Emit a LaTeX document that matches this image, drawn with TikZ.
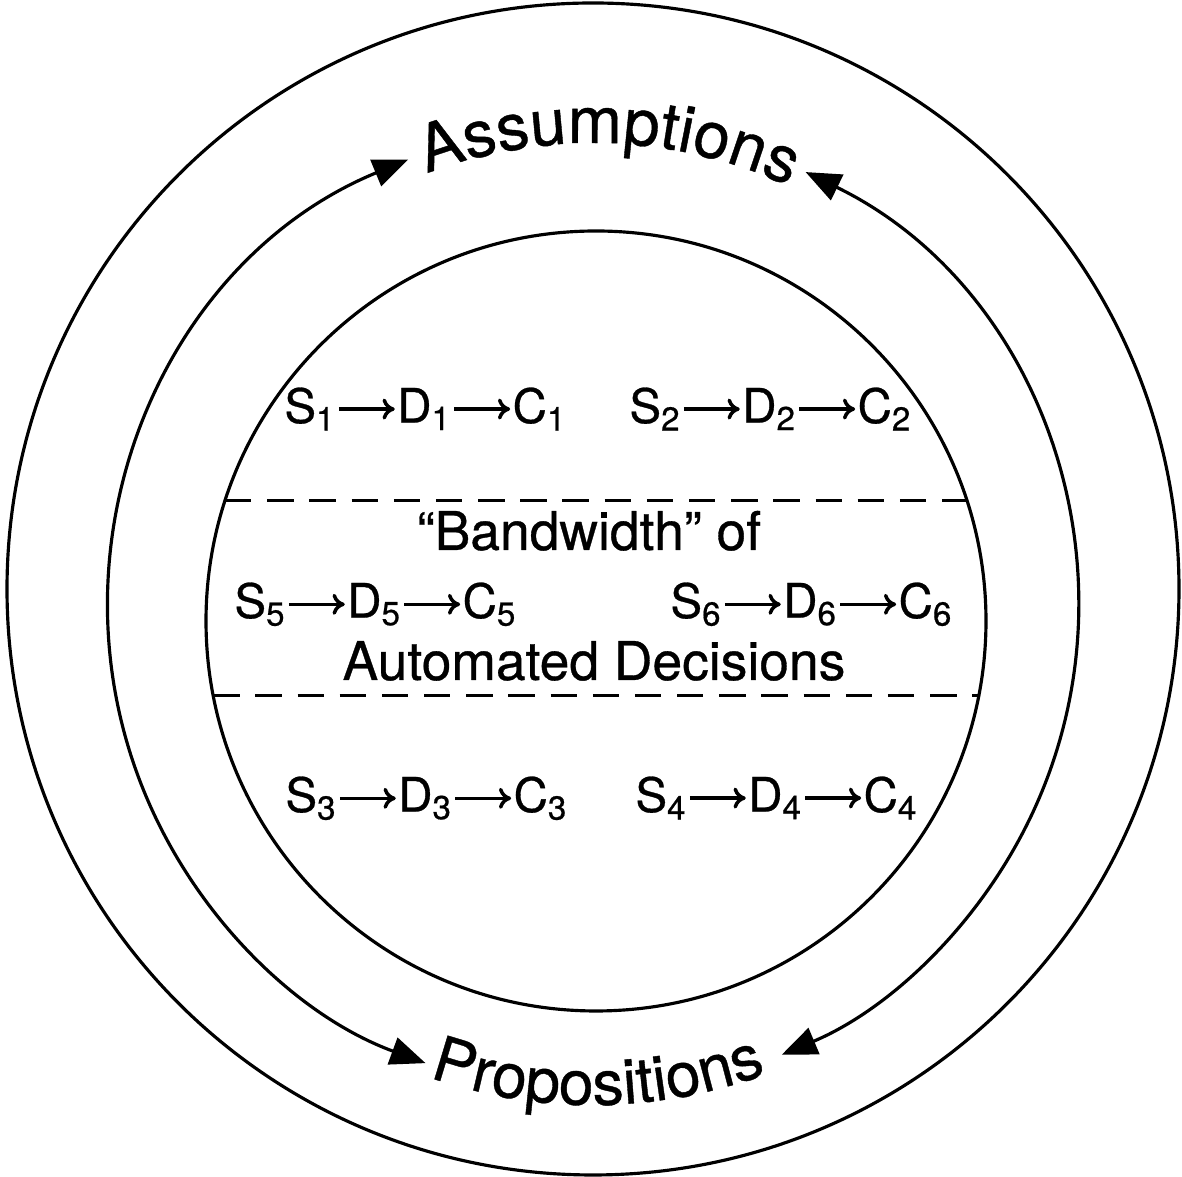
\documentclass[tikz,border=0pt]{standalone}
\usepackage{fontspec}
\setmainfont{TeX Gyre Heros}[FakeBold=0.6]
\usetikzlibrary{arrows.meta, positioning, decorations.text, calc}

\tikzset{
  ring/.style={circle, draw, line width=0.9pt, outer sep=0pt, inner sep=0pt},
  loopline/.style={line width=0.9pt,
    {Triangle[length=10pt,width=8pt]}-{Triangle[length=10pt,width=8pt]}},
  chain/.style={font=\fontsize{13.5}{16}\selectfont, inner sep=0.5pt, anchor=base west},
  link/.style={-{To[length=3.5pt,width=6pt]}, line width=1pt},
  band/.style={dash pattern=on 7.5pt off 4.5pt, line width=0.9pt},
  bandtext/.style={font=\fontsize{15.2}{18}\selectfont, anchor=base},
}

\begin{document}
\begin{tikzpicture}[x=0.1mm, y=0.1mm, node distance=5.6mm]
  \useasboundingbox (0,0) rectangle (1182,1177);

  % centres of the rings
  \coordinate (O) at (593,588);
  \coordinate (M) at (593,569);

  \node[ring, minimum size=11.72cm] (outer) at (O) {};
  \node[ring, minimum size=7.8cm] (inner) at (596,556) {};

  % the two arcs between assumptions and propositions
  \draw[loopline] ($(M)+(112.4:485)$) arc[start angle=112.4, end angle=249.8, radius=485];
  \draw[loopline] ($(M)+(64:485)$) arc[start angle=64, end angle=-67.1, radius=485];

  \path[decorate, decoration={text along path, text align=center,
      text={|\fontsize{18.5}{20}\selectfont|Assumptions}}]
    ($(M)+(123:465)$) arc[start angle=123, end angle=53, radius=465];
  \path[decorate, decoration={text along path, text align=center,
      text={|\fontsize{17.8}{20}\selectfont|Propositions}}]
    ($(M)+(-124.4:497)$) arc[start angle=-124.4, end angle=-54.4, radius=497];

  % bandwidth band
  \draw[band] (inner.162) -- (inner.18);
  \draw[band] (inner.191) -- (inner.-11);
  \node[bandtext] (bw) at (589,627) {“Bandwidth” of};
  \node[bandtext] (ad) at (594,497) {Automated Decisions};

  % situation -> decision -> consequence
  \foreach \i/\x/\y in {1/282/754, 2/627/754, 5/232/559, 6/668/559, 3/283/365, 4/633/365} {
    \node[chain] (s\i) at (\x,\y) {S\textsubscript{\i}};
    \node[chain, right=of s\i] (d\i) {D\textsubscript{\i}};
    \node[chain, right=of d\i] (c\i) {C\textsubscript{\i}};
    \draw[link] (s\i) -- (d\i);
    \draw[link] (d\i) -- (c\i);
  }
\end{tikzpicture}
\end{document}
